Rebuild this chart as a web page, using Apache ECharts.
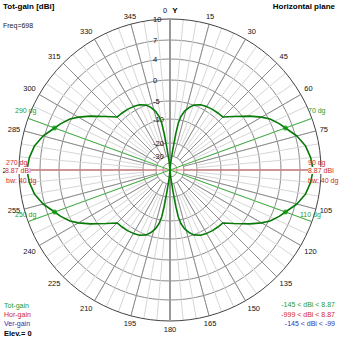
<!DOCTYPE html>
<html><head><meta charset="utf-8">
<script src="https://cdn.jsdelivr.net/npm/echarts@6/dist/echarts.min.js"></script>
<style>html,body{margin:0;padding:0;background:#fff}#c{width:339px;height:339px}</style>
</head><body><div id="c"></div>
<script>
// ---- data ----
const azimuth = [0,2,6,8,9,10,11.5,14,17,20,25,30,35,40,45,50,56,60,63,67,70,75,80,85,90,
  95,100,105,110,113,117,120,124,130,135,140,145,150,155,160,163,166,168.5,170,171,172,174,178,180,
  182,186,188,189,190,191.5,194,197,200,205,210,215,220,225,230,236,240,243,247,250,255,260,265,270,
  275,280,285,290,293,297,300,304,310,315,320,325,330,335,340,343,346,348.5,350,351,352,354,358,360];
const totGain = [-145,-60,-38,-24,-16,-11.5,-9,-7.3,-6,-5,-4.3,-4.0,-3.8,-3.7,-3.6,-1.6,1.2,3.0,4.2,5.2,5.87,7.2,8.1,8.6,8.87,
  8.6,8.1,7.2,5.87,5.2,4.2,3.0,1.2,-1.6,-3.6,-3.7,-3.8,-4.0,-4.3,-5,-6,-7.3,-9,-11.5,-16,-24,-38,-60,-145,
  -60,-38,-24,-16,-11.5,-9,-7.3,-6,-5,-4.3,-4.0,-3.8,-3.7,-3.6,-1.6,1.2,3.0,4.2,5.2,5.87,7.2,8.1,8.6,8.87,
  8.6,8.1,7.2,5.87,5.2,4.2,3.0,1.2,-1.6,-3.6,-3.7,-3.8,-4.0,-4.3,-5,-6,-7.3,-9,-11.5,-16,-24,-38,-60,-145];
const radialTicks = [10,7,4,0,-5,-10,-20,-30,-40];
const beamAngles = [70,110,250,290];
const beamGain = 5.87;
const maxAngles = [90,270];
const maxGain = 8.87;

// ---- 4NEC2-style radial gain scale (dB -> fraction of radius) ----
const scaleDb = [-55,-40,-30,-20,-10,-5,0,4,7,10];
const scaleFr = [0,7,14,27,51,69,90,111,130,151].map(v => v/151);
function toR(db){
  if (db <= scaleDb[0]) return 0;
  if (db >= scaleDb[scaleDb.length-1]) return 1;
  for (let i=1;i<scaleDb.length;i++){
    if (db <= scaleDb[i]){
      const t=(db-scaleDb[i-1])/(scaleDb[i]-scaleDb[i-1]);
      return scaleFr[i-1]+t*(scaleFr[i]-scaleFr[i-1]);
    }
  }
  return 1;
}
const tickR = radialTicks.map(toR);
function labelFor(v){
  let best=0,bd=1e9;
  tickR.forEach((r,i)=>{const d=Math.abs(r-v); if(d<bd){bd=d;best=i;}});
  return String(radialTicks[best]);
}

const FONT = '"Liberation Sans", Arial, sans-serif';
const C = [170,170], R = 151;
const chart = echarts.init(document.getElementById('c'), null, {renderer:'svg'});

const hidden = {show:false};
chart.setOption({
  animation:false,
  backgroundColor:'#fff',
  polar:[
    {center:C, radius:R},
    {center:C, radius:[toR(-20)*R, R]},
    {center:C, radius:[toR(-30)*R, R]}
  ],
  angleAxis:[
    {polarIndex:0, type:'value', min:0, max:360, interval:15, startAngle:90, clockwise:true,
     axisLine:{lineStyle:{color:'#444', width:1}}, axisTick:hidden, splitLine:hidden,
     axisLabel:{fontSize:7.5, fontFamily:FONT, color:'#111', margin:4,
       formatter:v => (v===0||v===360)?'':String(v)}},
    {polarIndex:1, type:'value', min:0, max:360, interval:5, startAngle:90, clockwise:true,
     axisLine:hidden, axisTick:hidden, axisLabel:hidden,
     splitLine:{show:true, lineStyle:{color:'#d6d6d6', width:1}}},
    {polarIndex:2, type:'value', min:0, max:360, interval:15, startAngle:90, clockwise:true,
     axisLine:hidden, axisTick:hidden, axisLabel:hidden,
     splitLine:{show:true, lineStyle:{color:'#8c8c8c', width:1}}}
  ],
  radiusAxis:[
    {polarIndex:0, type:'value', min:0, max:1,
     axisLine:hidden,
     axisTick:{show:false, customValues: tickR.filter(r => r < 1)},
     splitLine:{show:true, lineStyle:{color:'#8c8c8c', width:1}},
     axisLabel:{customValues: tickR, formatter: labelFor, fontSize:7.5, fontFamily:FONT,
       color:'#111', margin:17, align:'left'}},
    {polarIndex:1, type:'value', min:0, max:1, show:false},
    {polarIndex:2, type:'value', min:0, max:1, show:false}
  ],
  series:[
    {type:'line', coordinateSystem:'polar', polarIndex:0, symbol:'none', silent:true,
     lineStyle:{color:'#999', width:2}, data:[[1,0],[0,0],[1,180]], z:3},
    {type:'line', coordinateSystem:'polar', polarIndex:0, symbol:'none', silent:true,
     lineStyle:{color:'#e07070', width:1}, data:[[toR(9.6),maxAngles[1]],[0,0],[toR(9.6),maxAngles[0]]], z:4},
    {type:'line', coordinateSystem:'polar', polarIndex:0, symbol:'none', silent:true,
     lineStyle:{color:'#40b040', width:1}, data:[[1,beamAngles[3]],[0,0],[1,beamAngles[1]]], z:4},
    {type:'line', coordinateSystem:'polar', polarIndex:0, symbol:'none', silent:true,
     lineStyle:{color:'#40b040', width:1}, data:[[1,beamAngles[0]],[0,0],[1,beamAngles[2]]], z:4},
    {name:'Tot-gain', type:'line', coordinateSystem:'polar', polarIndex:0, symbol:'none', smooth:false,
     lineStyle:{color:'#087a08', width:1.6}, z:5,
     data: azimuth.map((a,i)=>[toR(totGain[i]), a])},
    {type:'scatter', coordinateSystem:'polar', polarIndex:0, symbolSize:5, z:6,
     itemStyle:{color:'#129a12'}, data: beamAngles.map(a=>[toR(beamGain), a])},
    {type:'scatter', coordinateSystem:'polar', polarIndex:0, symbolSize:5, z:6,
     itemStyle:{color:'#e02020'}, data: maxAngles.map(a=>[toR(maxGain), a])}
  ],
  graphic:[
    {type:'text', x:3, y:6, z:10, style:{text:'Tot-gain [dBi]', font:'bold 8px '+FONT, fill:'#000', verticalAlign:'middle'}},
    {type:'text', x:335, y:6, z:10, style:{text:'Horizontal plane', font:'bold 8px '+FONT, fill:'#000', align:'right', verticalAlign:'middle'}},
    {type:'text', x:3, y:25, z:10, style:{text:'Freq=698', font:'7px '+FONT, fill:'#222', verticalAlign:'middle'}},
    {type:'text', x:165, y:10, z:10, style:{text:'0', font:'7.5px '+FONT, fill:'#111', align:'center', verticalAlign:'middle'}},
    {type:'text', x:175, y:10, z:10, style:{text:'Y', font:'bold 8px '+FONT, fill:'#000', align:'center', verticalAlign:'middle'}},
    {type:'text', x:308, y:110, z:10, style:{text:'70 dg', font:'7px '+FONT, fill:'#2a9a2a', verticalAlign:'middle'}},
    {type:'text', x:15, y:110, z:10, style:{text:'290 dg', font:'7px '+FONT, fill:'#2a9a2a', verticalAlign:'middle'}},
    {type:'text', x:300, y:214, z:10, style:{text:'110 dg', font:'7px '+FONT, fill:'#2a9a2a', verticalAlign:'middle'}},
    {type:'text', x:15, y:214, z:10, style:{text:'250 dg', font:'7px '+FONT, fill:'#2a9a2a', verticalAlign:'middle'}},
    {type:'text', x:308, y:162.5, z:10, style:{text:'90 dg', font:'7px '+FONT, fill:'#d02828', verticalAlign:'middle'}},
    {type:'text', x:308, y:170.5, z:10, style:{text:'8.87 dBi', font:'7px '+FONT, fill:'#d02828', verticalAlign:'middle', backgroundColor:'#fff'}},
    {type:'text', x:308, y:180.5, z:10, style:{text:'bw: 40 dg', font:'7px '+FONT, fill:'#d02828', verticalAlign:'middle'}},
    {type:'text', x:6, y:162.5, z:10, style:{text:'270 dg', font:'7px '+FONT, fill:'#d02828', verticalAlign:'middle'}},
    {type:'text', x:5, y:170.5, z:10, style:{text:'8.87 dBi', font:'7px '+FONT, fill:'#d02828', verticalAlign:'middle', backgroundColor:'#fff'}},
    {type:'text', x:6, y:180.5, z:10, style:{text:'bw: 40 dg', font:'7px '+FONT, fill:'#d02828', verticalAlign:'middle'}},
    {type:'text', x:4, y:305, z:10, style:{text:'Tot-gain', font:'7px '+FONT, fill:'#2a9a2a', verticalAlign:'middle'}},
    {type:'text', x:4, y:314.3, z:10, style:{text:'Hor-gain', font:'7px '+FONT, fill:'#d02828', verticalAlign:'middle'}},
    {type:'text', x:4, y:323.5, z:10, style:{text:'Ver-gain', font:'7px '+FONT, fill:'#3030b0', verticalAlign:'middle'}},
    {type:'text', x:4, y:333, z:10, style:{text:'Elev.= 0', font:'bold 7.5px '+FONT, fill:'#000', verticalAlign:'middle'}},
    {type:'text', x:335, y:304.5, z:10, style:{text:'-145 < dBi < 8.87', font:'7px '+FONT, fill:'#2a9a2a', align:'right', verticalAlign:'middle'}},
    {type:'text', x:335, y:314, z:10, style:{text:'-999 < dBi < 8.87', font:'7px '+FONT, fill:'#d02828', align:'right', verticalAlign:'middle'}},
    {type:'text', x:335, y:323.5, z:10, style:{text:'-145 < dBi < -99', font:'7px '+FONT, fill:'#3030b0', align:'right', verticalAlign:'middle'}}
  ]
});
</script>
</body></html>
